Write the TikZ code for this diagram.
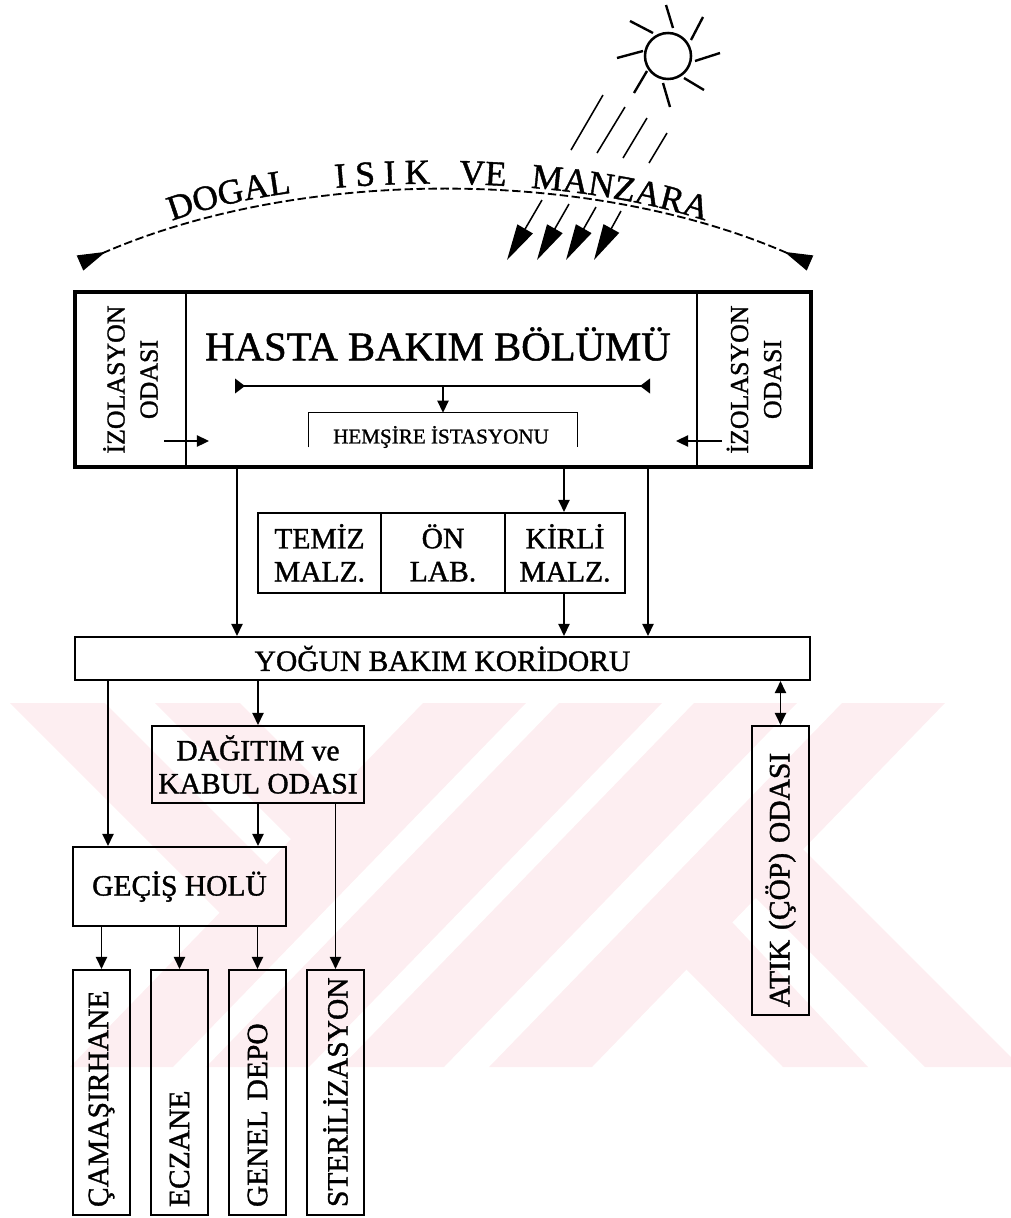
\documentclass[tikz,border=0pt]{standalone}
\usepackage{fontspec}
\usetikzlibrary{arrows.meta,decorations.text}
\newfontfamily\scanfont{Liberation Serif}[FakeBold=1.2]
\newcommand{\roomfont}{\scanfont\fontsize{21pt}{23.5pt}\selectfont}
\tikzset{
  roombox/.style={draw, line width=1.5pt, font=\roomfont, align=center, inner sep=0pt},
  columnbox/.style={roombox, rotate=90, minimum height=1.425cm, inner sep=.2cm, align=left},
  thinline/.style={line width=1.1pt},
  curvetext/.style 2 args={decorate, decoration={text along path, text align={left indent=#1},
    text={|\scanfont\fontsize{25pt}{25pt}\selectfont|#2}}},
}
\definecolor{markpink}{RGB}{253,238,241}
\begin{document}
\begin{tikzpicture}[x=.025cm, y=-.025cm, >={Triangle[length=.3cm,width=.28cm]}]
    \useasboundingbox (0,0) rectangle (1011,1218);

    % watermark
    \foreach \topx in {423,559,694,842}
      \fill[markpink] (\topx,703) -- ({\topx+103},703) -- ({\topx+103-353},1067) -- ({\topx-353},1067) -- cycle;
    \fill[markpink] (10,703) -- (105,703) -- (276,874) -- (229,922) -- cycle;
    \fill[markpink] (155,703) -- (240,703) -- (342,805) -- (300,848) -- cycle;
    \fill[markpink] (733,923) -- (868,1067) -- (783,1067) -- (687,970) -- (677,955) -- (723,913) -- cycle;
    \fill[markpink] (798,844) -- (1011,1057) -- (1011,1067) -- (925,1067) -- (755,897) -- (745,887) -- (788,834) -- cycle;

    % sun
    \node[circle, draw, line width=1.8pt, minimum size=1.15cm, inner sep=0pt] (sun) at (668,56) {};
    \foreach \xa/\ya/\xb/\yb in {666/5/673/28, 703/17/691/40, 720/53/695/61, 704/90/684/78,
                                 670/107/663/83, 634/93/647/71, 617/58/643/51, 630/21/653/33}
      \draw[line width=1.7pt] (\xa,\ya) -- (\xb,\yb);

    % rays
    \foreach \xa/\ya/\xb/\yb in {603/95/571/150, 625/107/597/153, 647/118/623/158, 667/133/649/163}
      \draw[thinline] (\xa,\ya) -- (\xb,\yb);
    \foreach \xa/\ya/\xb/\yb in {542/200/507/260, 569/204/537/260, 596/207/566/260, 621/211/594/260}
      \draw[thinline, -{Triangle[length=.9cm,width=.44cm]}] (\xa,\ya) -- (\xb,\yb);

    % arc and its text
    \draw[line width=1.3pt, dash pattern=on 6pt off 2.5pt,
          {Triangle[reversed,length=.7cm,width=.4cm]}-{Triangle[reversed,length=.7cm,width=.4cm]}]
      (80,263) .. controls (300,167) and (590,167) .. (810,263);
    \path[curvetext={0pt}{DOGAL}] (172,221) .. controls (300,172) and (560,170) .. (712,223);
    \path[curvetext={119pt}{I S I K}] (172,221) .. controls (300,172) and (560,170) .. (712,223);
    \path[curvetext={207pt}{VE}] (172,221) .. controls (300,172) and (560,170) .. (712,223);
    \path[curvetext={258pt}{MANZARA}] (172,221) .. controls (300,172) and (560,170) .. (712,223);

    % patient ward
    \node[roombox, line width=1pt, rotate=90, minimum width=4.375cm, minimum height=2.775cm,
          font=\scanfont\fontsize{18.4pt}{23.5pt}\selectfont] (isosol) at (130.5,379.5) {İZOLASYON\\ODASI};
    \node[roombox, line width=1pt, rotate=90, minimum width=4.375cm, minimum height=2.85cm,
          font=\scanfont\fontsize{18.4pt}{23.5pt}\selectfont] (isosag) at (754,379.5) {İZOLASYON\\ODASI};
    \node[draw, line width=2.8pt, minimum width=18.4cm, minimum height=4.375cm] (hasta) at (443,379.5) {};
    \node[font=\scanfont\fontsize{29pt}{29pt}\selectfont] (hastaad) at (438,344) {HASTA BAKIM BÖLÜMÜ};

    \coordinate (barsol) at (235,386);
    \coordinate (barsag) at (650,386);
    \draw[line width=1.8pt, {Triangle[reversed,length=.25cm,width=.36cm]}-{Triangle[reversed,length=.25cm,width=.36cm]}]
      (barsol) -- (barsag);
    \node[minimum width=6.7cm, minimum height=.85cm, inner sep=0pt] (hemsire) at (443,430) {};
    \node[font=\scanfont\fontsize{15pt}{15pt}\selectfont] (hemsiread) at (441,437) {HEMŞİRE İSTASYONU};
    \draw[thinline] (hemsire.south west) |- (hemsire.north east) -- (hemsire.south east);
    \draw[thinline, ->] (hemsire.north |- barsol) -- (hemsire.north);
    \coordinate (oksol) at (164,441);
    \coordinate (oksag) at (722,441);
    \draw[thinline, ->] (oksol) -- +(45,0);
    \draw[thinline, ->] (oksag) -- +(-46,0);

    % supply rooms
    \node[roombox, minimum width=3.075cm, minimum height=2cm] (temiz) at (319.5,553) {TEMİZ\\MALZ.};
    \node[roombox, minimum width=3.1cm, minimum height=2cm] (onlab) at (443,553) {ÖN\\LAB.};
    \node[roombox, minimum width=3cm, minimum height=2cm] (kirli) at (565,553) {KİRLİ\\MALZ.};

    % corridor
    \node[roombox, minimum width=18.375cm, minimum height=1.075cm] (koridor) at (442.5,658.5)
      {YOĞUN BAKIM KORİDORU};

    \draw[thinline, ->] (237,0 |- hasta.south) -- (237,0 |- koridor.north);
    \draw[thinline, ->] (564,0 |- hasta.south) -- (564,0 |- kirli.north);
    \draw[thinline, ->] (648,0 |- hasta.south) -- (648,0 |- koridor.north);
    \draw[thinline, ->] (564,0 |- kirli.south) -- (564,0 |- koridor.north);

    % lower rooms
    \node[roombox, minimum width=5.3cm, minimum height=1.925cm] (dagitim) at (258,764.5) {DAĞITIM ve\\KABUL ODASI};
    \node[roombox, minimum width=5.325cm, minimum height=1.975cm] (gecis) at (179.5,886.5) {GEÇİŞ HOLÜ};
    \node[columnbox, text width=5.725cm] (camasir) at (101.5,1092.5) {ÇAMAŞIRHANE};
    \node[columnbox, text width=5.725cm] (eczane) at (179.5,1092.5) {ECZANE};
    \node[columnbox, text width=5.725cm] (genel) at (257.5,1092.5) {GENEL DEPO};
    \node[columnbox, text width=5.725cm] (steril) at (335.5,1092.5) {STERİLİZASYON};
    \node[columnbox, text width=6.825cm] (atik) at (780.5,870.5) {ATIK (ÇÖP) ODASI};

    \draw[thinline, ->] (108,0 |- koridor.south) -- (108,0 |- gecis.north);
    \draw[thinline, ->] (258,0 |- koridor.south) -- (dagitim.north);
    \draw[thinline, <->] (atik.east |- koridor.south) -- (atik.east);
    \draw[thinline, ->] (dagitim.south) -- (258,0 |- gecis.north);
    \draw[thinline, ->] (steril.east |- dagitim.south) -- (steril.east);
    \foreach \oda in {camasir, eczane, genel}
      \draw[thinline, ->] (\oda.east |- gecis.south) -- (\oda.east);
\end{tikzpicture}
\end{document}
